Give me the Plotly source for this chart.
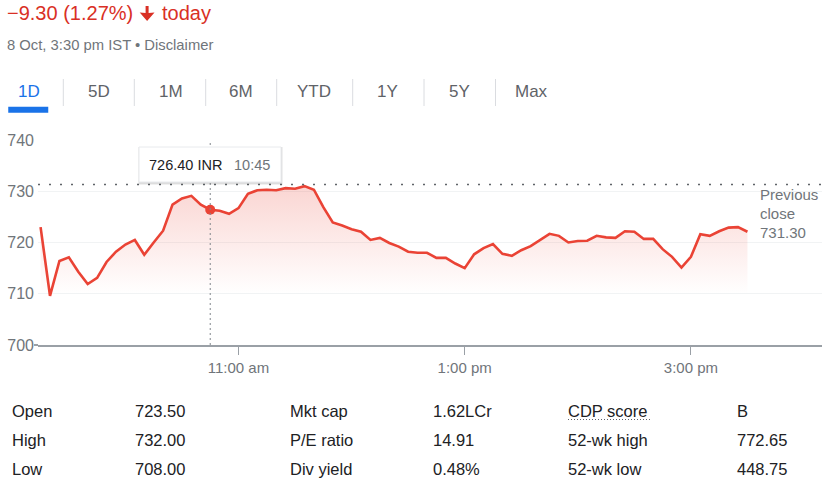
import pandas as pd
import plotly.graph_objects as go

# ---------------- data ----------------
prices = [
    723.0, 709.6, 716.4, 717.1, 714.3, 711.9, 713.1, 716.2, 718.2, 719.6,
    720.5, 717.6, 720.0, 722.3, 727.4, 728.6, 729.1, 727.4, 726.4,
    726.2, 725.6, 726.7, 729.5, 730.2, 730.3, 730.2, 730.6, 730.5, 731.0,
    730.3, 726.9, 723.9, 723.3, 722.6, 722.1, 720.5, 720.9, 719.9,
    719.2, 718.2, 718.0, 718.0, 717.0, 717.0, 715.9, 715.0, 717.7, 718.9,
    719.7, 717.8, 717.4, 718.5, 719.3, 720.5, 721.7, 721.3, 720.0,
    720.3, 720.35, 721.3, 721.0, 720.9, 722.2, 722.1, 720.7, 720.7, 718.7,
    717.2, 715.1, 717.2, 721.6, 721.3, 722.2, 722.9, 723.0, 722.1,
]
times = pd.date_range("2024-10-08 09:15", periods=len(prices), freq="5min")

prev_close = 731.30
hover_time = "2024-10-08 10:45"
hover_price = 726.40
fill_floor = 710

y_ticks = [700, 710, 720, 730, 740]
x_tickvals = ["2024-10-08 11:00", "2024-10-08 13:00", "2024-10-08 15:00"]
x_ticktext = ["11:00 am", "1:00 pm", "3:00 pm"]

tabs = ["1D", "5D", "1M", "6M", "YTD", "1Y", "5Y", "Max"]

table_rows = [
    ("Open", "723.50", "Mkt cap", "1.62LCr", "CDP score", "B"),
    ("High", "732.00", "P/E ratio", "14.91", "52-wk high", "772.65"),
    ("Low", "708.00", "Div yield", "0.48%", "52-wk low", "448.75"),
]

# ---------------- layout helpers ----------------
W, H = 833, 492
L, R, T, B = 38, 822, 140, 345
FONT = "Arial, Liberation Sans, sans-serif"
RED = "#ea4335"
GREY = "#70757a"
DARK = "#202124"


def px(x):
    return (x - L) / (R - L)


def py(y):
    return (B - y) / (B - T)


def label(text, x, y, size, color, anchor="left"):
    return dict(text=text, x=px(x), y=py(y), xref="paper", yref="paper",
                xanchor=anchor, yanchor="middle", showarrow=False,
                borderpad=0, borderwidth=0,
                font=dict(family=FONT, size=size, color=color))


fig = go.Figure()

# invisible floor for gradient fill
fig.add_trace(go.Scatter(
    x=times, y=[fill_floor] * len(prices), mode="lines",
    line=dict(width=0, color="rgba(0,0,0,0)"), hoverinfo="skip", showlegend=False,
))
fig.add_trace(go.Scatter(
    x=times, y=prices, mode="lines",
    line=dict(color=RED, width=2.6),
    fill="tonexty",
    fillgradient=dict(
        type="vertical",
        colorscale=[[0, "rgba(234,67,53,0.0)"], [1, "rgba(234,67,53,0.22)"]],
        start=fill_floor, stop=731,
    ),
    hoverinfo="skip", showlegend=False,
))
fig.add_trace(go.Scatter(
    x=[hover_time], y=[hover_price], mode="markers",
    marker=dict(color=RED, size=10), hoverinfo="skip", showlegend=False,
))

shapes = []
annotations = []

# previous close dotted line
shapes.append(dict(type="line", xref="paper", yref="y", x0=0, x1=1,
                   y0=prev_close, y1=prev_close,
                   line=dict(color="#5f6368", width=1.5, dash="2px,9px")))
# hover vertical dotted line
shapes.append(dict(type="line", xref="x", yref="paper", x0=hover_time, x1=hover_time,
                   y0=0, y1=1, line=dict(color="#80868b", width=1, dash="2px,3px")))
# small extension of baseline to the left
shapes.append(dict(type="line", xref="paper", yref="paper", x0=px(34), x1=px(38),
                   y0=py(345), y1=py(345), line=dict(color="#9aa0a6", width=2)))

# tooltip box (shadow + box)
for off, col in [(2, "rgba(0,0,0,0.06)"), (1, "rgba(0,0,0,0.08)")]:
    shapes.append(dict(type="rect", xref="paper", yref="paper", layer="above",
                       x0=px(139 - off + 1), x1=px(281 + off), y0=py(147), y1=py(183 + off),
                       fillcolor=col, line=dict(width=0)))
shapes.append(dict(type="rect", xref="paper", yref="paper", layer="above",
                   x0=px(139), x1=px(281), y0=py(147), y1=py(182),
                   fillcolor="white", line=dict(color="#e8eaed", width=1)))
annotations.append(label("726.40 INR", 149, 165, 14.5, DARK))
annotations.append(label("10:45", 234, 165, 14.5, GREY))

# previous close label
for i, t in enumerate(["Previous", "close", "731.30"]):
    annotations.append(label(t, 760, 194 + 19 * i, 15, GREY))

# header
annotations.append(label("−9.30 (1.27%)", 7, 13, 20, "#d93025"))
annotations.append(label("today", 162, 13, 20, "#d93025"))
# down arrow as path
arrow_pts = [(145.6, 6), (148.6, 6), (148.6, 13), (154.5, 12.5), (147.1, 21),
             (139.7, 12.5), (145.6, 13)]
path = "M " + " L ".join(f"{px(x):.5f},{py(y):.5f}" for x, y in arrow_pts) + " Z"
shapes.append(dict(type="path", xref="paper", yref="paper", path=path,
                   fillcolor="#d93025", line=dict(width=0)))

annotations.append(label("8 Oct, 3:30 pm IST • Disclaimer", 7, 45, 14.8, GREY))

# tabs
tab_centers = [28.8, 99, 170.5, 241.3, 314, 387.5, 459, 531]
for name, cx in zip(tabs, tab_centers):
    annotations.append(label(name, cx, 91, 17,
                             "#1a73e8" if name == "1D" else "#5f6368", anchor="center"))
for sx in [63.3, 134.3, 205.7, 276.7, 352.7, 424, 495.5]:
    shapes.append(dict(type="line", xref="paper", yref="paper", x0=px(sx), x1=px(sx),
                       y0=py(79), y1=py(106), line=dict(color="#dadce0", width=1)))
shapes.append(dict(type="path", xref="paper", yref="paper",
                   path=("M {0},{1} L {2},{1} L {2},{3} L {0},{3} Z".format(
                       px(9), py(112), px(47.5), py(107.5))),
                   fillcolor="#1a73e8", line=dict(color="#1a73e8", width=1.5)))

# key stats table
col_x = [12, 135, 290, 433, 568, 736.5]
row_y = [410.7, 440, 469.3]
for ry, row in zip(row_y, table_rows):
    for cx, txt in zip(col_x, row):
        annotations.append(label(txt, cx, ry, 16.5, "#202124"))
shapes.append(dict(type="line", xref="paper", yref="paper", x0=px(568), x1=px(652),
                   y0=py(419.5), y1=py(419.5),
                   line=dict(color="#5f6368", width=1.2, dash="1px,2px")))

fig.update_layout(
    width=W, height=H, autosize=False,
    margin=dict(l=L, r=W - R, t=T, b=H - B, pad=0),
    paper_bgcolor="white", plot_bgcolor="white",
    showlegend=False,
    shapes=shapes, annotations=annotations,
    font=dict(family=FONT),
    xaxis=dict(
        range=["2024-10-08 09:13:38", "2024-10-08 16:09:33"],
        tickvals=x_tickvals, ticktext=x_ticktext,
        showgrid=False, zeroline=False, automargin=False,
        showline=True, linecolor="#9aa0a6", linewidth=2,
        ticks="outside", ticklen=8, tickcolor="#9aa0a6", tickwidth=1,
        tickfont=dict(family=FONT, size=15, color=GREY),
    ),
    yaxis=dict(
        range=[700, 740], tickvals=y_ticks, automargin=False,
        showgrid=True, gridcolor="#f1f3f4", gridwidth=1,
        zeroline=False, showline=False, ticks="",
        ticklabelstandoff=3,
        tickfont=dict(family=FONT, size=16, color=GREY),
    ),
)

fig.write_html("out.html")
